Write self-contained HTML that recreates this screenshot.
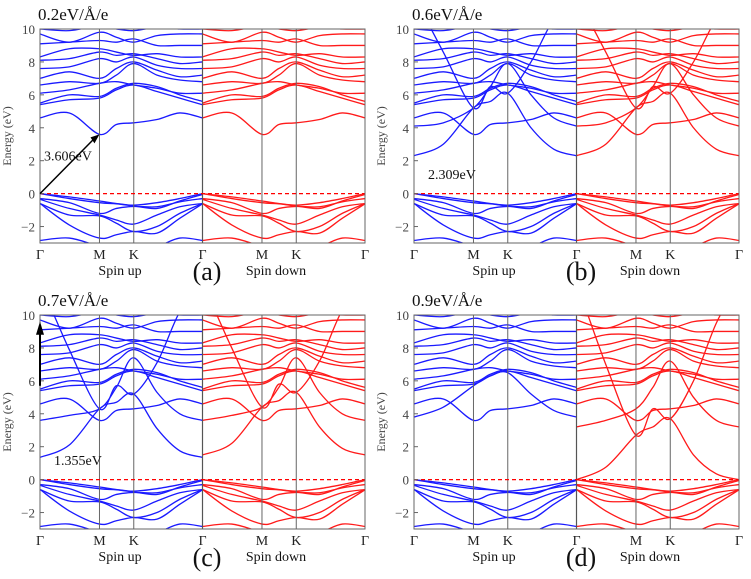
<!DOCTYPE html>
<html><head><meta charset="utf-8">
<style>
html,body{margin:0;padding:0;background:#fff;}
svg{display:block;font-family:"Liberation Serif",serif;}
</style></head>
<body>
<svg id="fig" width="751" height="579" viewBox="0 0 751 579" xmlns="http://www.w3.org/2000/svg"></svg>
<script>
const kSamples = [0, 0.18, 0.366, 0.47, 0.577, 0.72, 0.86, 1];
const kTicks = [0, 0.366, 0.577, 1];
const kLabels = ['Γ', 'M', 'K', 'Γ'];
const yTicks = [-2, 0, 2, 4, 6, 8, 10];
const panelTitles = ['0.2eV/Å/e', '0.6eV/Å/e', '0.7eV/Å/e', '0.9eV/Å/e'];
const panelLetters = ['(a)', '(b)', '(c)', '(d)'];
const gapLabels = ['3.606eV', '2.309eV', '1.355eV', ''];

const valenceBands = [
  [0, -0.2, -0.45, -0.6, -0.7, -0.55, -0.3, 0],
  [0, -0.3, -0.55, -0.62, -0.75, -0.9, -0.45, -0.05],
  [-0.3, -0.55, -1.2, -0.9, -0.78, -0.8, -0.5, -0.3],
  [-0.35, -0.9, -1.3, -1.6, -1.85, -1.3, -0.8, -0.6],
  [-0.6, -1.3, -1.35, -1.8, -2.3, -2.0, -1.2, -0.6],
  [-0.6, -1.9, -2.7, -2.5, -2.3, -2.4, -1.5, -0.62],
  [-2.85, -2.7, -3.2, -3.3, -3.3, -3.2, -2.7, -2.85]
];
const conductionBands = [
  [4.6, 4.9, 3.6, 4.2, 4.3, 4.5, 4.9, 4.6],
  [5.4, 5.7, 5.8, 6.3, 6.6, 6.2, 5.8, 5.4],
  [5.5, 6.0, 5.9, 6.4, 6.7, 6.5, 6.0, 5.6],
  [6.1, 6.3, 6.7, 6.8, 6.6, 6.4, 6.1, 6.1],
  [6.6, 6.8, 6.7, 7.2, 7.9, 7.2, 6.9, 6.8],
  [7.0, 7.4, 7.0, 7.6, 8.0, 7.5, 7.1, 7.2],
  [7.6, 7.7, 8.2, 8.0, 8.3, 7.8, 7.6, 7.6],
  [8.1, 8.2, 8.6, 8.4, 8.5, 8.2, 7.9, 8.0],
  [8.3, 8.8, 8.8, 8.6, 8.4, 8.5, 8.3, 8.3],
  [9.1, 9.2, 9.3, 9.2, 9.4, 9.0, 9.0, 9.0],
  [9.7, 9.2, 9.8, 9.5, 9.2, 9.6, 9.7, 9.7],
  [10, 9.9, 10.2, 10, 9.9, 10.1, 10, 10]
];
const extraA_up = [];
const extraA_down = [];
const extraB_up = [[2.3, 3.0, 5.2, 5.6, 6.1, 4.0, 2.7, 2.3],[12, 8.6, 5.2, 6.5, 6.1, 8.0, 10.6, 12],[4.1, 4.3, 5.2, 6.5, 7.9, 6.0, 4.6, 4.1]];
const extraB_down = [[2.3, 3.0, 5.2, 5.6, 6.1, 4.0, 2.7, 2.3],[12, 8.6, 5.2, 6.5, 6.1, 8.0, 10.6, 12],[4.1, 4.3, 5.2, 6.5, 7.9, 6.0, 4.6, 4.1]];
const extraC_up = [[1.35, 2.1, 4.3, 4.7, 5.2, 3.1, 1.75, 1.35],[12, 7.9, 4.3, 5.7, 5.2, 7.1, 10.2, 12],[3.6, 3.9, 4.3, 5.6, 7.4, 5.3, 4.0, 3.6]];
const extraC_down = [[1.5, 2.2, 4.4, 4.8, 5.3, 3.2, 1.9, 1.5],[12, 8.0, 4.4, 5.8, 5.3, 7.2, 10.3, 12],[3.6, 3.9, 4.4, 5.6, 7.4, 5.3, 4.0, 3.6]];
const extraD_up = [[3.8, 4.4, 5.7, 6.3, 6.5, 5.2, 4.2, 3.8]];
const extraD_down = [[0.0, 0.75, 2.7, 3.2, 3.7, 1.5, 0.35, 0.0],[12, 7.0, 2.7, 4.3, 3.7, 6.0, 9.5, 12],[3.2, 3.6, 4.3, 5.6, 7.2, 5.0, 3.6, 3.2]];
const extras = [[extraA_up, extraA_down],[extraB_up, extraB_down],[extraC_up, extraC_down],[extraD_up, extraD_down]];

const NS = 'http://www.w3.org/2000/svg';
const svg = document.getElementById('fig');
const panels = [{x0:40,y0:29},{x0:414,y0:29},{x0:40,y0:315},{x0:414,y0:315}];
const W = 325, H = 214, EMIN = -3, EMAX = 10;
function mk(tag, attrs, parent){const e=document.createElementNS(NS,tag);for(const k in attrs)e.setAttribute(k,attrs[k]);(parent||svg).appendChild(e);return e;}
function smoothPath(pts){
  let d='M'+pts[0][0].toFixed(2)+','+pts[0][1].toFixed(2);
  for(let i=0;i<pts.length-1;i++){
    const p0=pts[Math.max(i-1,0)],p1=pts[i],p2=pts[i+1],p3=pts[Math.min(i+2,pts.length-1)];
    const c1=[p1[0]+(p2[0]-p0[0])/6,p1[1]+(p2[1]-p0[1])/6];
    const c2=[p2[0]-(p3[0]-p1[0])/6,p2[1]-(p3[1]-p1[1])/6];
    d+=' C'+c1[0].toFixed(2)+','+c1[1].toFixed(2)+' '+c2[0].toFixed(2)+','+c2[1].toFixed(2)+' '+p2[0].toFixed(2)+','+p2[1].toFixed(2);
  }
  return d;
}
panels.forEach((P,pi)=>{
  const g = mk('g',{});
  
  
  const yS = e => P.y0 + (EMAX-e)/(EMAX-EMIN)*H;
  const xS = (t,half) => P.x0 + half*W/2 + t*W/2;
  const cid='clip'+pi;
  const cp=mk('clipPath',{id:cid},g);
  mk('rect',{x:P.x0,y:P.y0,width:W,height:H},cp);
  const bandsG = mk('g',{'clip-path':'url(#'+cid+')'},g);
  [0,1].forEach(half=>{
    const color = half===0 ? '#1a1aff' : '#ff1a1a';
    const all = valenceBands.concat(conductionBands, extras[pi][half]);
    all.forEach((band,bi)=>{
      const pts = band.map((e,i)=>[xS(kSamples[i],half), yS(e)]);
      const p = mk('path',{d:smoothPath(pts),fill:'none',stroke:color,'stroke-width':1.3},bandsG);
      
      
    });
    kTicks.forEach((t,i)=>{
      if(i===0 && half===1) return;
      if(i>0 && i<3){
        const l=mk('line',{x1:xS(t,half),x2:xS(t,half),y1:P.y0,y2:P.y0+H,stroke:'#666','stroke-width':1},g);
        
        
      }
      const tx=mk('text',{x:xS(t,half),y:P.y0+H+16,'font-size':14,'text-anchor':'middle',fill:'#222'},g);
      tx.textContent=kLabels[i];
      
      
    });
  });
  const ml=mk('line',{x1:P.x0+W/2,x2:P.x0+W/2,y1:P.y0,y2:P.y0+H,stroke:'#555','stroke-width':1.2},g);
  
  
  const fl=mk('line',{x1:P.x0,x2:P.x0+W,y1:yS(0),y2:yS(0),stroke:'#f00','stroke-width':1.2,'stroke-dasharray':'4,3'},g);
  
  
  const fr=mk('rect',{x:P.x0,y:P.y0,width:W,height:H,fill:'none',stroke:'#666','stroke-width':1},g);
  
  
  yTicks.forEach(v=>{
    mk('line',{x1:P.x0,x2:P.x0+4,y1:yS(v),y2:yS(v),stroke:'#666'},g);
    const t=mk('text',{x:P.x0-5,y:yS(v)+5,'font-size':13,'text-anchor':'end',fill:'#444'},g);
    t.textContent = v<0 ? '−'+Math.abs(v) : String(v);
    
    
  });
  const yl=mk('text',{x:0,y:0,'font-size':12,'text-anchor':'middle',fill:'#444',transform:'translate('+(P.x0-29)+','+(P.y0+H/2)+') rotate(-90)'},g);
  yl.textContent='Energy (eV)';
  
  
  const ti=mk('text',{x:P.x0-2,y:P.y0-9,'font-size':17,fill:'#111'},g);
  ti.textContent=panelTitles[pi];
  
  
  const su=mk('text',{x:P.x0+80,y:P.y0+H+32,'font-size':14,'text-anchor':'middle',fill:'#111'},g);
  su.textContent='Spin up';
  
  
  const sd=mk('text',{x:P.x0+236,y:P.y0+H+32,'font-size':14,'text-anchor':'middle',fill:'#111'},g);
  sd.textContent='Spin down';
  
  
  const le=mk('text',{x:P.x0+167,y:P.y0+H+37,'font-size':26,'text-anchor':'middle',fill:'#111'},g);
  le.textContent=panelLetters[pi];
  
  
  if(gapLabels[pi]){
    const gy = pi===0 ? yS(2.0) : yS(0.9);
    const gx = pi===0 ? P.x0+4 : P.x0+14;
    const gl=mk('text',{x:gx,y:gy,'font-size':14,fill:'#111'},g);
    gl.textContent=gapLabels[pi];
    
    
  }
  if(pi===0){
    const ax=xS(0.366,0), ay=yS(3.6), sx=P.x0, sy=yS(0);
    mk('line',{x1:sx,y1:sy,x2:ax-5,y2:ay+4,stroke:'#000','stroke-width':1.5},g);
    mk('polygon',{points:ax+','+ay+' '+(ax-9)+','+(ay+3)+' '+(ax-5)+','+(ay+9),fill:'#000'},g);
  }
  if(pi===2){
    mk('line',{x1:P.x0,y1:yS(5.7),x2:P.x0,y2:yS(9.0),stroke:'#000','stroke-width':2},g);
    mk('polygon',{points:P.x0+','+yS(9.6)+' '+(P.x0-4)+','+yS(8.8)+' '+(P.x0+4)+','+yS(8.8),fill:'#000'},g);
  }
});
</script>
</body></html>
